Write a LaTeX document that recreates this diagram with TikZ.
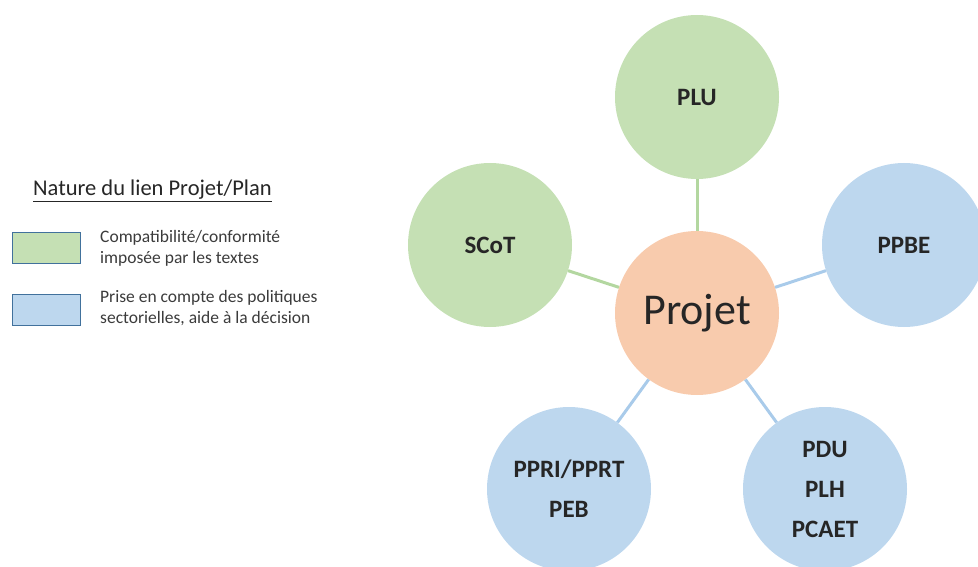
\documentclass[tikz,border=0pt]{standalone}
\usepackage{fontspec}
\setmainfont{Carlito}
\definecolor{greenfill}{HTML}{C5E0B4}
\definecolor{bluefill}{HTML}{BDD7EE}
\definecolor{orangefill}{HTML}{F8CBAD}
\definecolor{greenlink}{HTML}{B3D7A0}
\definecolor{bluelink}{HTML}{A9CBEA}
\definecolor{boxborder}{HTML}{41719C}
\definecolor{labeltext}{HTML}{262626}
\definecolor{legendtext}{HTML}{3B3B3B}
\tikzset{
  plan/.style={circle, minimum size=164pt, inner sep=0pt, draw=none,
    text=labeltext, align=center, font=\fontsize{25}{40}\selectfont\bfseries},
  greenplan/.style={plan, fill=greenfill},
  blueplan/.style={plan, fill=bluefill},
  projet/.style={circle, minimum size=164pt, inner sep=0pt, fill=orangefill,
    text=labeltext, font=\fontsize{44}{50}\selectfont},
  greenlinkline/.style={draw=greenlink, line width=3pt},
  bluelinkline/.style={draw=bluelink, line width=3pt},
  legendbox/.style={draw=boxborder, line width=1.2pt, minimum width=68pt,
    minimum height=31pt, inner sep=0pt},
  legendlabel/.style={anchor=north west, inner sep=0pt, align=left,
    text=legendtext, font=\fontsize{17.5}{21}\selectfont},
}
\begin{document}
\begin{tikzpicture}[x=1pt, y=-1pt]
\useasboundingbox (0,0) rectangle (978,567);
\clip (0,0) rectangle (978,567);

% plans around the project
\node[projet]    (projet) at (697,313) {Projet};
\node[greenplan] (plu)    at (697,97)  {PLU};
\node[greenplan] (scot)   at (490,245) {SCoT};
\node[blueplan]  (ppbe)   at (904,245) {PPBE};
\node[blueplan]  (ppri)   at (569,489) {PPRI/PPRT\\PEB};
\node[blueplan]  (pdu)    at (825,489) {PDU\\PLH\\PCAET};

% links between the circles' borders
\draw[greenlinkline] (projet) -- (plu);
\draw[greenlinkline] (projet) -- (scot);
\draw[bluelinkline]  (projet) -- (ppbe);
\draw[bluelinkline]  (projet) -- (ppri);
\draw[bluelinkline]  (projet) -- (pdu);

% legend
\node[anchor=base west, inner sep=0pt, text=labeltext,
  font=\fontsize{22.5}{26}\selectfont] (title) at (33,196)
  {\underline{Nature du lien Projet/Plan}};
\node[legendbox, fill=greenfill, anchor=north west] (gbox) at (12,232) {};
\node[legendbox, fill=bluefill,  anchor=north west] (bbox) at (12,294) {};
\node[legendlabel] (glabel) at (100,230) {Compatibilité/conformité\\imposée par les textes};
\node[legendlabel] (blabel) at (100,290) {Prise en compte des politiques\\sectorielles, aide à la décision};
\end{tikzpicture}
\end{document}
